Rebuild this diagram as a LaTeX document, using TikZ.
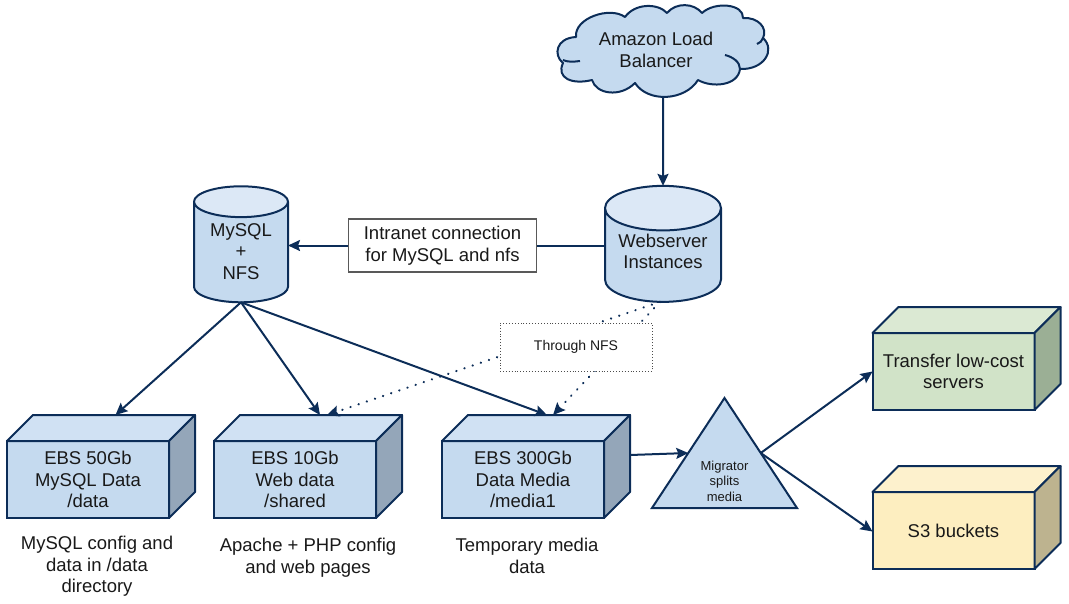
\documentclass[tikz,border=0pt]{standalone}
\usepackage{fontspec}
\setmainfont{Liberation Sans}
\usepackage{tikz}
\usetikzlibrary{shapes.geometric,arrows.meta,positioning,calc}
\usepackage{xcolor}
\definecolor{navy}{RGB}{12,45,88}
\definecolor{ebsfront}{RGB}{197,218,239}
\definecolor{ebstop}{RGB}{208,225,243}
\definecolor{ebsside}{RGB}{148,166,185}
\definecolor{capend}{RGB}{220,232,246}
\definecolor{grnfront}{RGB}{209,227,200}
\definecolor{grntop}{RGB}{219,233,211}
\definecolor{grnside}{RGB}{155,175,149}
\definecolor{ylwfront}{RGB}{253,238,192}
\definecolor{ylwtop}{RGB}{253,241,205}
\definecolor{ylwside}{RGB}{189,179,143}

% front face as a node, top and side faces around it
\newcommand{\crate}[7]{%
  \node[crate,fill=#4,anchor=north west] (#1) at (#2,#3) {#7};
  \draw[face,fill=#5] (#1.north west) -- ++(26,-26) -- ++(162,0) -- (#1.north east) -- cycle;
  \draw[face,fill=#6] (#1.north east) -- ++(26,-26) -- ++(0,77) -- ++(-26,26) -- cycle;
}

\begin{document}
\begin{tikzpicture}[x=1pt,y=-1pt,
  txt/.style={font=\fontsize{18.5}{21.5}\selectfont,align=center,text=black!90},
  crate/.style={txt,draw=navy,line width=2pt,minimum width=162pt,minimum height=77pt,inner sep=0pt,outer sep=0pt},
  face/.style={draw=navy,line width=2pt,line join=round},
  store/.style={txt,cylinder,shape border rotate=90,aspect=0.5,draw=navy,line width=2pt,
                cylinder uses custom fill,cylinder body fill=ebsfront,cylinder end fill=capend,
                minimum height=116pt,inner sep=0pt,outer sep=0pt},
  note/.style={txt,inner sep=0pt},
  arr/.style={-{Stealth[length=12pt,width=11pt,inset=2pt]},draw=navy,line width=2pt},
  dotarr/.style={arr,line cap=round,line width=2.4pt,dash pattern=on 0.1pt off 8.5pt},
  link/.style={draw=navy,line width=2pt}]
  \useasboundingbox (0,0) rectangle (1069,603);

  % cloud
  \draw[face,fill=ebsfront] (563,63) .. controls (553,55) and (556,38) .. (576,37)
    .. controls (574,18) and (610,6) .. (625,17)
    .. controls (635,3) and (658,3) .. (667,13)
    .. controls (676,2) and (694,3) .. (702,13)
    .. controls (715,1) and (744,4) .. (743,18)
    .. controls (758,17) and (768,28) .. (763,38)
    .. controls (776,50) and (764,70) .. (740,69)
    .. controls (738,86) and (712,88) .. (698,80)
    .. controls (685,101) and (648,103) .. (635,83)
    .. controls (620,98) and (596,94) .. (592,80)
    .. controls (572,85) and (556,78) .. (563,63) -- cycle;
  \draw[face] (563,60) .. controls (567,62) and (573,62) .. (580,61);
  \draw[face] (740,69) .. controls (740,62) and (733,57) .. (725,55);
  \draw[face] (763,38) .. controls (762,41) and (760,43) .. (757,44);
  \node[note,minimum height=94pt] (lb) at (656,50) {Amazon Load\\Balancer};

  \node[store,minimum width=116pt] (web) at (663,255.5) {Webserver\\Instances\\[-13.5pt]\mbox{}};
  \node[store,minimum width=94pt] (mysql) at (241,252.5) {MySQL\\+\\NFS\\[-19.5pt]\mbox{}};
  \node[note,draw=black!65,line width=1.5pt,fill=white,minimum width=188pt,minimum height=53pt] (intranet) at (442.5,245.5) {Intranet connection\\for MySQL and nfs};

  \crate{ebsa}{7}{441}{ebsfront}{ebstop}{ebsside}{EBS 50Gb\\MySQL Data\\/data}
  \crate{ebsb}{214}{441}{ebsfront}{ebstop}{ebsside}{EBS 10Gb\\Web data\\/shared}
  \crate{ebsc}{442}{441}{ebsfront}{ebstop}{ebsside}{EBS 300Gb\\Data Media\\/media1}
  \crate{transfer}{872.5}{333}{grnfront}{grntop}{grnside}{Transfer low-cost\\servers}
  \crate{bucket}{872.5}{492}{ylwfront}{ylwtop}{ylwside}{S3 buckets}

  \node[note,below=18pt of ebsa,xshift=9pt] (capa) {MySQL config and\\data in /data\\directory};
  \node[note,below=20pt of ebsb,xshift=13pt] (capb) {Apache + PHP config\\and web pages};
  \node[note,below=20pt of ebsc,xshift=4pt] (capc) {Temporary media\\data};

  \node[isosceles triangle,isosceles triangle stretches,shape border rotate=90,draw=navy,line width=2pt,
        fill=ebsfront,minimum width=145pt,minimum height=110pt,inner sep=0pt,outer sep=0pt,anchor=apex] (migrator) at (724.5,398) {};
  \node[font=\fontsize{13}{15.5}\selectfont,align=center,text=black!90,inner sep=0pt] (miglabel) at (724.5,481) {Migrator\\splits\\media};

  \draw[arr] ([xshift=7pt]lb.south) -- (web.north);
  \draw[link] (web.west |- intranet.east) -- (intranet.east);
  \draw[arr] (intranet.west) -- (mysql.east |- intranet.west);
  \draw[arr] (mysql.south) -- ([shift={(27.5,-26)}]ebsa.north);
  \draw[arr] (mysql.south) -- ([shift={(25,-26)}]ebsb.north);
  \draw[arr] (mysql.south) -- ([shift={(24,-26)}]ebsc.north);
  \draw[dotarr] ([xshift=-3pt]web.south) -- ([shift={(32,-26)}]ebsb.north);
  \draw[dotarr] ([xshift=-3pt]web.south) -- ([shift={(30,-26)}]ebsc.north);
  \node[font=\fontsize{14}{16}\selectfont,text=black!90,draw=black!70,dotted,line width=0.9pt,fill=white,
        minimum width=152pt,minimum height=48pt,inner sep=0pt] (nfs) at (576,347) {Through NFS};

  \draw[arr] ([shift={(26,-24.5)}]ebsc.east) -- (migrator.left side);
  \draw[arr] (migrator.right side) -- (transfer.west);
  \draw[arr] (migrator.right side) -- ([yshift=-1pt]bucket.west);
\end{tikzpicture}
\end{document}
